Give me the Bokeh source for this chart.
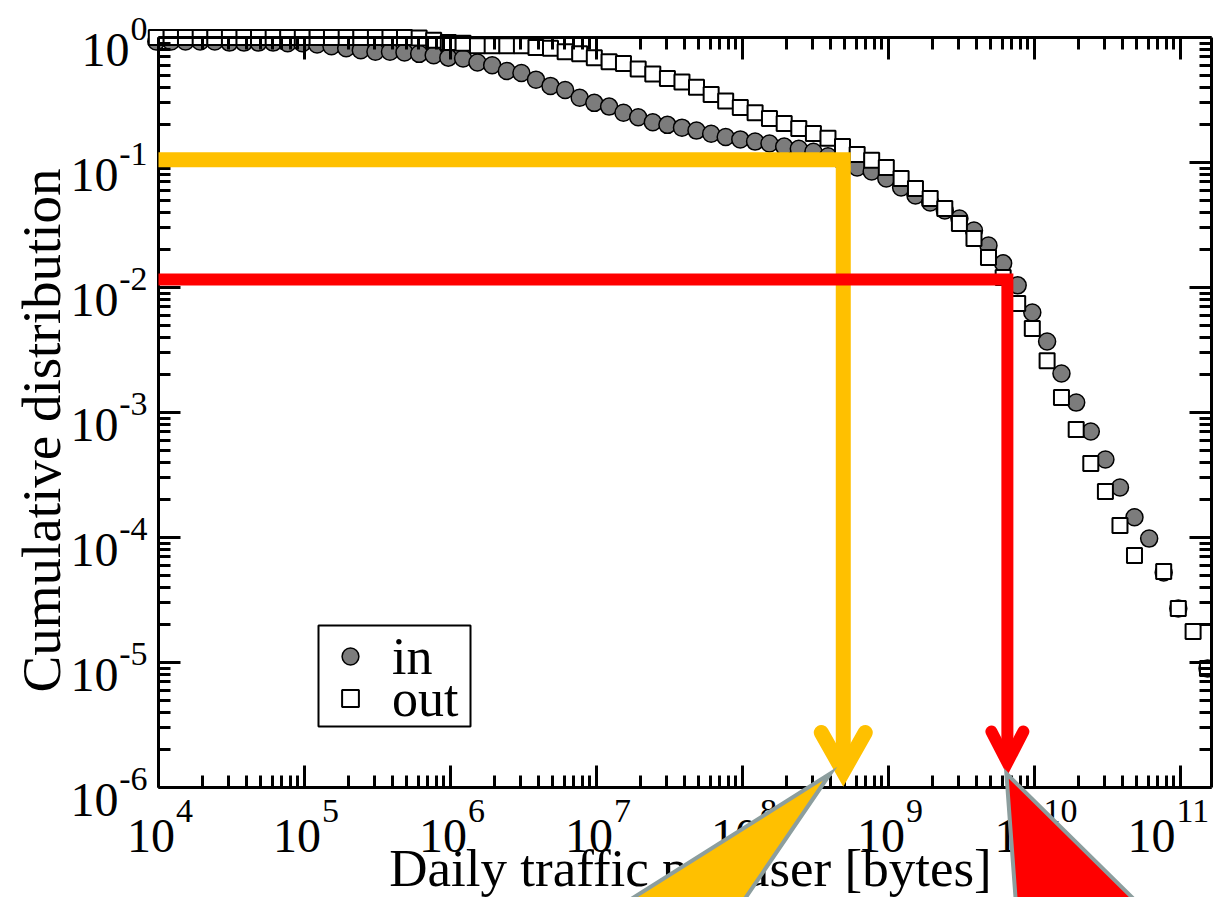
import math
from bokeh.plotting import figure
from bokeh.models import LogAxis, FixedTicker, Range1d, Legend, LegendItem, BoxAnnotation
from bokeh.core.properties import value
from bokeh.embed import file_html
from bokeh.resources import INLINE

# ---------------- data ----------------
traffic_bins = [
    9.66e3,
    1.22e4, 1.53e4, 1.93e4, 2.43e4, 3.06e4, 3.85e4, 4.84e4, 6.10e4, 7.67e4, 9.66e4,
    1.22e5, 1.53e5, 1.93e5, 2.43e5, 3.06e5, 3.85e5, 4.84e5, 6.10e5, 7.67e5, 9.66e5,
    1.22e6, 1.53e6, 1.93e6, 2.43e6, 3.06e6, 3.85e6, 4.84e6, 6.10e6, 7.67e6, 9.66e6,
    1.22e7, 1.53e7, 1.93e7, 2.43e7, 3.06e7, 3.85e7, 4.84e7, 6.10e7, 7.67e7, 9.66e7,
    1.22e8, 1.53e8, 1.93e8, 2.43e8, 3.06e8, 3.85e8, 4.84e8, 6.10e8, 7.67e8, 9.66e8,
    1.22e9, 1.53e9, 1.93e9, 2.43e9, 3.06e9, 3.85e9, 4.84e9, 6.10e9, 7.67e9, 9.66e9,
    1.22e10, 1.53e10, 1.93e10, 2.43e10, 3.06e10, 3.85e10, 4.84e10, 6.10e10, 7.67e10, 9.66e10,
    1.22e11, 1.53e11,
]

cdf_in = [
    0.93,
    0.93, 0.93, 0.93, 0.93, 0.91, 0.91, 0.91, 0.91, 0.90, 0.90,
    0.88, 0.85, 0.82, 0.79, 0.77, 0.77, 0.76, 0.74, 0.72, 0.69,
    0.68, 0.63, 0.60, 0.54, 0.52, 0.46, 0.41, 0.38, 0.33, 0.30,
    0.28, 0.25, 0.23, 0.21, 0.20, 0.19, 0.18, 0.17, 0.16, 0.153,
    0.147, 0.142, 0.134, 0.129, 0.122, 0.112, 0.102, 0.0912, 0.0847, 0.0745,
    0.0631, 0.0545, 0.0479, 0.0413, 0.0356, 0.0286, 0.0217, 0.0156, 0.0104, 0.0063,
    0.0037, 0.00205, 0.0012, 7.05e-4, 4.21e-4, 2.51e-4, 1.45e-4, 9.8e-5, 5.25e-5, 2.7e-5,
    None, 8.95e-6,
]

cdf_out = [
    1.0,
    1.0, 1.0, 1.0, 1.0, 1.0, 1.0, 1.0, 1.0, 1.0, 1.0,
    1.0, 1.0, 1.0, 1.0, 1.0, 1.0, 1.0, 0.99, 0.95, 0.91,
    0.90, 0.86, 0.86, 0.86, 0.86, 0.83, 0.82, 0.77, 0.74, 0.69,
    0.64, 0.62, 0.56, 0.51, 0.47, 0.44, 0.40, 0.35, 0.31, 0.275,
    0.25, 0.225, 0.205, 0.187, 0.171, 0.156, 0.134, 0.116, 0.104, 0.0912,
    0.0745, 0.0619, 0.0515, 0.0429, 0.0325, 0.0247, 0.0174, 0.012, 0.00745, 0.0047,
    0.0026, 0.00132, 7.3e-4, 3.9e-4, 2.33e-4, 1.25e-4, 7.18e-5, None, 5.35e-5, 2.7e-5,
    1.77e-5, 8.95e-6,
]

series_labels = ["in", "out"]
x_tick_values = [1e4, 1e5, 1e6, 1e7, 1e8, 1e9, 1e10, 1e11]
x_tick_exponents = ["4", "5", "6", "7", "8", "9", "10", "11"]
y_tick_values = [1.0, 1e-1, 1e-2, 1e-3, 1e-4, 1e-5, 1e-6]
y_tick_exponents = ["0", "-1", "-2", "-3", "-4", "-5", "-6"]
x_axis_title = "Daily traffic per user [bytes]"
y_axis_title = "Cumulative distribution"

# highlighted thresholds of the slide overlay
gold_level, gold_traffic = 0.105, 4.9e8
red_level, red_traffic = 0.0116, 6.52e9

# ---------------- layout helpers ----------------
W, H = 1213, 897
DEC_X, DEC_Y = 146.0, 125.0         # pixels per decade
X_1E4, Y_1E0 = 158.0, 37.0          # canvas pixel of 10^4 (x) and 10^0 (y)
FONT = "Liberation Serif"
TXT = 0.34                          # baseline correction (fraction of font size)


def xd(px):
    return 10 ** (4 + (px - X_1E4) / DEC_X)


def xpx(x):
    return X_1E4 + (math.log10(x) - 4) * DEC_X


def yd(py):
    return 10 ** (-(py - Y_1E0) / DEC_Y)


def xshift(x, dpx):
    return x * 10 ** (dpx / DEC_X)


def yshift(y, dpx):  # positive dpx = downwards
    return y * 10 ** (-dpx / DEC_Y)


RIGHT_PX = 1211
x_lo, x_hi = 1e4, xd(RIGHT_PX)
y_lo, y_hi = 1e-6, 1.0

p = figure(width=W, height=H, output_backend="svg", toolbar_location=None,
           x_axis_type="log", y_axis_type="log",
           x_axis_location=None, y_axis_location=None,
           x_range=Range1d(xd(0), xd(W)), y_range=Range1d(yd(H), yd(0)),
           min_border=0, min_border_left=0, min_border_right=0,
           min_border_top=0, min_border_bottom=0)
if p.title is not None:
    p.title.visible = False
p.outline_line_color = None
p.background_fill_color = "white"
p.border_fill_color = "white"
for g in p.grid:
    g.visible = False

x_minor = [m * 10 ** e for e in range(4, 11) for m in range(2, 10)]
y_minor = [m * 10 ** e for e in range(-6, 0) for m in range(2, 10)]


def make_axis(ticks, minors, loc, bounds):
    ax = LogAxis(ticker=FixedTicker(ticks=ticks, minor_ticks=minors),
                 fixed_location=loc, bounds=bounds)
    ax.axis_line_width = 3
    ax.axis_line_color = "black"
    ax.major_tick_in = 22
    ax.major_tick_out = 0
    ax.minor_tick_in = 12
    ax.minor_tick_out = 0
    ax.major_tick_line_width = 3
    ax.minor_tick_line_width = 3
    ax.major_label_text_color = None
    ax.major_label_text_font_size = "0px"
    return ax


p.add_layout(make_axis(x_tick_values, x_minor, y_lo, (x_lo, x_hi)), "below")
p.add_layout(make_axis(x_tick_values, x_minor, y_hi, (x_lo, x_hi)), "above")
p.add_layout(make_axis(y_tick_values, y_minor, x_lo, (y_lo, y_hi)), "left")
p.add_layout(make_axis(y_tick_values, y_minor, x_hi, (y_lo, y_hi)), "right")

# ---------------- tick labels (10 + superscript) ----------------
FS_BASE, FS_SUP = 48, 34
base_x, base_y, sup_x, sup_y = [], [], [], []
for t, e in zip(x_tick_values, x_tick_exponents):
    n = len(e)
    edge = 25 - 8.5 * n
    right_edge = xpx(t) + edge + 1 + 17 * n
    if right_edge > W - 3:          # keep the last label inside the canvas
        edge -= right_edge - (W - 3)
    base_x.append(xshift(t, edge))
    sup_x.append(xshift(t, edge + 1))
    base_y.append(yshift(y_lo, 65 - TXT * FS_BASE))
    sup_y.append(yshift(y_lo, 35 - TXT * FS_SUP))
p.text(x=base_x, y=base_y, text=["10"] * len(base_x), text_align="right",
       text_baseline="alphabetic", text_font=value(FONT),
       text_font_size=f"{FS_BASE}px", text_color="black")
p.text(x=sup_x, y=sup_y, text=x_tick_exponents, text_align="left",
       text_baseline="alphabetic", text_font=value(FONT),
       text_font_size=f"{FS_SUP}px", text_color="black")

yb_x, yb_y, ys_x, ys_y = [], [], [], []
for t, e in zip(y_tick_values, y_tick_exponents):
    supw = 17 * len(e.replace("-", "")) + (11 if "-" in e else 0)
    ys_x.append(xd(147))
    ys_y.append(yshift(t, 3 - TXT * FS_SUP))
    yb_x.append(xd(147 - supw - 1))
    yb_y.append(yshift(t, 29 - TXT * FS_BASE))
p.text(x=yb_x, y=yb_y, text=["10"] * len(yb_x), text_align="right",
       text_baseline="alphabetic", text_font=value(FONT),
       text_font_size=f"{FS_BASE}px", text_color="black")
p.text(x=ys_x, y=ys_y, text=y_tick_exponents, text_align="right",
       text_baseline="alphabetic", text_font=value(FONT),
       text_font_size=f"{FS_SUP}px", text_color="black")

# axis titles
FS_XT, FS_YT = 53, 55
p.text(x=[xd(690)], y=[yd(886 - TXT * FS_XT)], text=[x_axis_title], text_align="center",
       text_baseline="alphabetic", text_font=value(FONT),
       text_font_size=f"{FS_XT}px", text_color="black")
p.text(x=[xd(60 - TXT * FS_YT)], y=[yd(430)], text=[y_axis_title], angle=math.pi / 2,
       text_align="center", text_baseline="alphabetic", text_font=value(FONT),
       text_font_size=f"{FS_YT}px", text_color="black")

# ---------------- data ----------------
nan = float("nan")
y_in = [nan if v is None else v for v in cdf_in]
y_out = [nan if v is None else v for v in cdf_out]
r_in = p.scatter(traffic_bins, y_in, marker="circle", size=17,
                 fill_color="#7c7c7c", line_color="black", line_width=1.5)
r_out = p.scatter(traffic_bins, y_out, marker="square", size=15,
                  fill_color="white", line_color="black", line_width=2)

# ---------------- legend ----------------
p.add_layout(BoxAnnotation(left=xd(318), right=xd(470), top=yd(625), bottom=yd(726),
                           fill_color="white", fill_alpha=1.0,
                           line_color="black", line_width=2, line_alpha=1.0))
row_centers = [656, 698]
for lab, rend, cy in zip(series_labels, [r_in, r_out], row_centers):
    lg_ = Legend(items=[LegendItem(label=lab, renderers=[rend])],
                 location=(329, H - (cy + 32)), margin=0, padding=0, spacing=0,
                 glyph_width=42, glyph_height=64, label_standoff=21,
                 label_text_font=FONT, label_text_font_size="52px",
                 label_text_color="black",
                 border_line_color=None, background_fill_alpha=0.0)
    p.add_layout(lg_)

# ---------------- slide overlay: threshold lines, arrows, callouts ----------------
GOLD, RED, OUTLINE = "#FFC000", "#FF0000", "#8C9E9E"

g_tip = yd(771)
r_tip = yd(762)
lg = p.line([x_lo, gold_traffic, gold_traffic], [gold_level, gold_level, g_tip],
            line_color=GOLD, line_width=15, line_join="miter", line_cap="butt")
lg.level = "overlay"
lr = p.line([x_lo, red_traffic, red_traffic], [red_level, red_level, r_tip],
            line_color=RED, line_width=12, line_join="miter", line_cap="butt")
lr.level = "overlay"

hg = p.line([xshift(gold_traffic, -22), gold_traffic, xshift(gold_traffic, 22)],
            [yd(732), g_tip, yd(732)], line_color=GOLD, line_width=15,
            line_join="miter", line_cap="round")
hg.level = "overlay"
hr = p.line([xshift(red_traffic, -16), red_traffic, xshift(red_traffic, 16)],
            [yd(731), r_tip, yd(731)], line_color=RED, line_width=12,
            line_join="miter", line_cap="round")
hr.level = "overlay"

cg_off = [(-13, 773), (-120, 930), (-262, 930)]
cg = p.patch([xshift(gold_traffic, a) for a, b in cg_off], [yd(b) for a, b in cg_off],
             fill_color=GOLD, line_color=OUTLINE, line_width=4, line_join="miter")
cg.level = "overlay"
cr_off = [(-1, 773), (137, 909), (240, 909), (240, 940), (-60, 940),
          (-60, 915), (-54, 909), (9, 909)]
cr = p.patch([xshift(red_traffic, a) for a, b in cr_off], [yd(b) for a, b in cr_off],
             fill_color=RED, line_color=OUTLINE, line_width=4, line_join="miter")
cr.level = "overlay"

html = file_html(p, INLINE, title="Daily traffic per user")
with open("out.html", "w") as f:
    f.write(html)
